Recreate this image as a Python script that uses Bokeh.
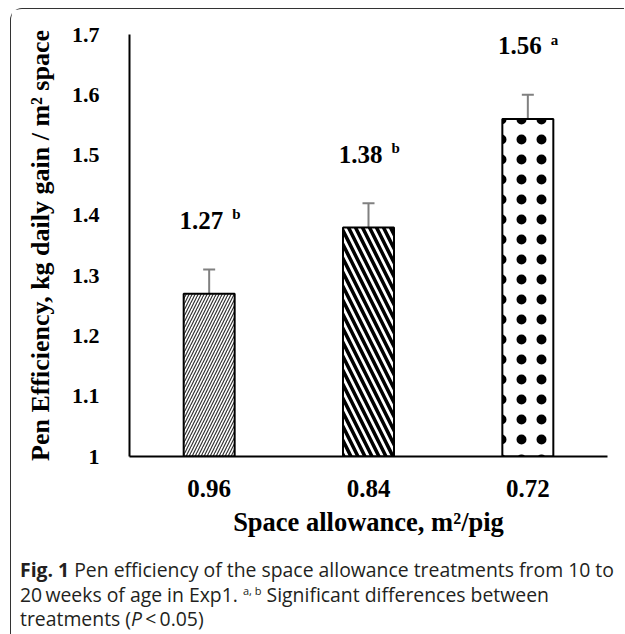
from bokeh.plotting import figure
from bokeh.models import ColumnDataSource, Whisker, TeeHead, FixedTicker, Div
from bokeh.layouts import column
from bokeh.core.properties import value
from bokeh.embed import file_html
from bokeh.resources import INLINE

# ---- data ----
categories = ["0.96", "0.84", "0.72"]
efficiency = [1.27, 1.38, 1.56]
sem = [0.04, 0.04, 0.04]
value_labels = ["1.27", "1.38", "1.56"]
letters = ["b", "b", "a"]
y_ticks = [1.0, 1.1, 1.2, 1.3, 1.4, 1.5, 1.6, 1.7]
y_tick_labels = ["1", "1.1", "1.2", "1.3", "1.4", "1.5", "1.6", "1.7"]

# ---- styles (kept separate from data) ----
patterns = ["right_diagonal_line", "left_diagonal_line", "dot"]
hatch_scales = [6, 14, 20]
hatch_weights = [1.2, 3.5, 11]
hatch_colors = ["#333333", "#000000", "#000000"]
label_offset = 0.12

SERIF = value("Liberation Serif")

src = ColumnDataSource(dict(
    cat=categories,
    val=efficiency,
    upper=[v + e for v, e in zip(efficiency, sem)],
    lower=[v - e for v, e in zip(efficiency, sem)],
    lab=value_labels,
    let=letters,
    ly=[v + label_offset for v in efficiency],
    pat=patterns,
    hs=hatch_scales,
    hw=hatch_weights,
    hc=hatch_colors,
))

p = figure(
    x_range=categories, y_range=(1.0, 1.7),
    frame_width=478, frame_height=422,
    min_border_left=118, min_border_right=17, min_border_top=25, min_border_bottom=97,
    output_backend="svg", toolbar_location=None,
    background_fill_color="white", border_fill_color="white",
)
p.outline_line_color = None
p.grid.visible = False

p.vbar(x="cat", top="val", bottom=1.0, width=0.32, source=src,
       fill_color="white", line_color="black", line_width=2,
       hatch_pattern="pat", hatch_scale="hs", hatch_weight="hw", hatch_color="hc")

wh = Whisker(base="cat", upper="upper", lower="lower", source=src,
             line_color="#808080", line_width=2,
             upper_head=TeeHead(size=12, line_color="#808080", line_width=2),
             lower_head=TeeHead(size=12, line_color="#808080", line_width=2))
p.add_layout(wh)

p.text(x="cat", y="ly", text="lab", source=src, text_font=SERIF, text_font_style="bold",
       text_font_size="25px", text_align="right", text_baseline="alphabetic",
       x_offset=14, y_offset=-1, text_color="black")
p.text(x="cat", y="ly", text="let", source=src, text_font=SERIF, text_font_style="bold",
       text_font_size="15px", text_align="left", text_baseline="alphabetic",
       x_offset=23, y_offset=-7, text_color="black")

# axes
for ax in (p.xaxis[0], p.yaxis[0]):
    ax.axis_line_color = "black"
    ax.axis_line_width = 2
    ax.major_tick_line_color = None
    ax.minor_tick_line_color = None
    ax.major_label_text_font = "Liberation Serif"
    ax.major_label_text_font_style = "bold"
    ax.axis_label_text_font = "Liberation Serif"
    ax.axis_label_text_font_style = "bold"
    ax.axis_label_text_color = "black"
    ax.major_label_text_color = "black"
    ax.axis_label_text_font_size = "26.5px"

p.yaxis.ticker = FixedTicker(ticks=y_ticks)
p.yaxis.major_label_overrides = {t: l for t, l in zip(y_ticks, y_tick_labels)}
p.yaxis.major_label_text_font_size = "22px"
p.yaxis.major_label_standoff = 24
p.yaxis.axis_label = "Pen Efficiency, kg daily gain / m\u00b2 space"
p.yaxis.axis_label_text_font_size = "26px"
p.yaxis.axis_label_standoff = 14

p.xaxis.major_label_text_font_size = "25px"
p.xaxis.major_label_standoff = 17
p.xaxis.axis_label = "Space allowance, m\u00b2/pig"
p.xaxis.axis_label_standoff = 7

caption = Div(
    text=("<div style='margin-top:0px'>"
          "<b>Fig. 1</b> Pen efficiency of the space allowance treatments from 10 to<br>"
          "20&thinsp;weeks of age in Exp1. <sup style='font-size:11px;line-height:0'>a, b</sup> Significant differences between<br>"
          "treatments (<i>P</i>&thinsp;&lt;&thinsp;0.05)</div>"),
    width=600, height=78,
    styles={"font-family": "Open Sans", "font-size": "19.4px", "line-height": "24.5px",
            "color": "#231f20", "padding-left": "4px",
            "white-space": "nowrap"},
)

layout = column(p, caption, styles={"border-left": "1.5px solid #333", "border-top": "1.5px solid #333",
                                    "border-top-left-radius": "12px", "margin-left": "10px",
                                    "margin-top": "8px"})

open("out.html", "w").write(file_html(layout, INLINE))
